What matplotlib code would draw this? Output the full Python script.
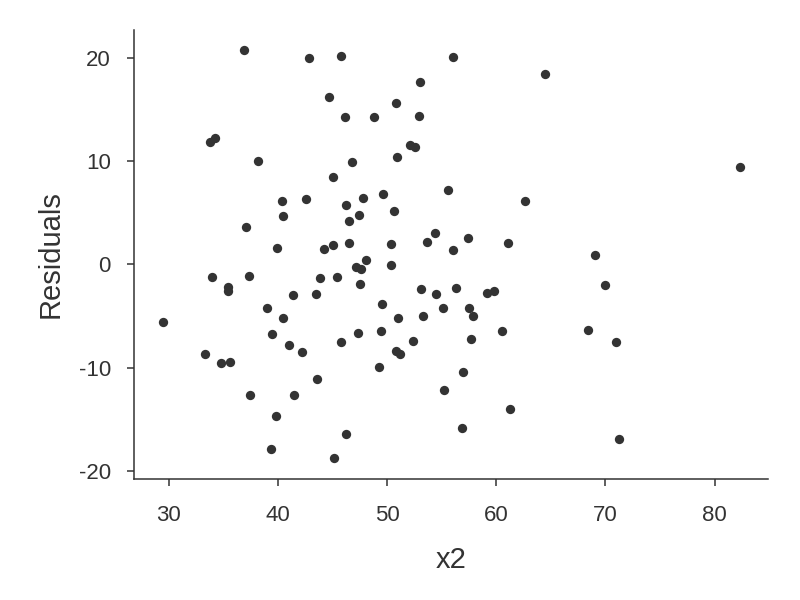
import matplotlib.pyplot as plt

x2 = [36.87, 42.87, 45.80, 44.67, 46.17, 34.25, 33.82, 38.13, 46.75, 45.07,
      40.36, 42.56, 46.24, 40.51, 46.49, 37.12, 39.90, 44.21, 45.00, 46.47,
      56.00, 64.44, 53.01, 50.84, 48.79, 52.95, 52.09, 52.58, 50.93, 55.61,
      62.63, 47.82, 49.65, 47.45, 50.66, 50.38, 53.68, 54.35, 57.38, 56.07,
      61.11, 82.37, 69.08, 33.98, 35.41, 35.41, 37.37, 43.88, 45.37, 41.34,
      43.45, 39.02, 40.49, 29.49, 39.48, 41.00, 42.16, 45.78, 33.30, 34.83,
      35.59, 43.57, 37.46, 41.49, 39.78, 46.22, 39.35, 45.16, 48.03, 47.18,
      47.64, 50.35, 47.54, 53.10, 54.51, 56.34, 59.15, 59.76, 49.52, 51.03,
      53.32, 55.15, 57.53, 57.86, 47.36, 49.43, 52.34, 50.78, 51.21, 57.68,
      60.50, 49.25, 56.98, 55.18, 61.29, 56.86, 69.96, 68.44, 71.01, 71.28]

residuals = [20.78, 20.06, 20.25, 16.27, 14.30, 12.29, 11.84, 10.03, 9.96, 8.48,
             6.15, 6.34, 5.78, 4.72, 4.20, 3.65, 1.55, 1.51, 1.90, 2.04,
             20.10, 18.45, 17.70, 15.63, 14.33, 14.43, 11.58, 11.36, 10.39, 7.21,
             6.17, 6.47, 6.80, 4.76, 5.15, 1.94, 2.14, 3.04, 2.52, 1.39,
             2.04, 9.48, 0.93, -1.23, -2.17, -2.59, -1.11, -1.36, -1.26, -3.01,
             -2.91, -4.27, -5.18, -5.60, -6.77, -7.83, -8.54, -7.57, -8.68, -9.55,
             -9.42, -11.14, -12.62, -12.66, -14.70, -16.43, -17.86, -18.83, 0.42, -0.23,
             -0.49, -0.07, -1.94, -2.37, -2.85, -2.30, -2.79, -2.62, -3.88, -5.21,
             -4.99, -4.21, -4.21, -5.02, -6.67, -6.45, -7.45, -8.42, -8.68, -7.28,
             -6.41, -9.94, -10.43, -12.23, -13.98, -15.86, -2.04, -6.35, -7.57, -16.89]

plt.rcParams['font.family'] = ['Liberation Sans', 'DejaVu Sans']
plt.rcParams['axes.unicode_minus'] = False

fig = plt.figure(figsize=(8, 6), dpi=100)
ax = fig.add_axes([0.168, 0.202, 0.792, 0.748])

ax.scatter(x2, residuals, s=45, color='#333333', linewidths=0)

ax.set_xlim(26.85, 84.9)
ax.set_ylim(-20.8, 22.75)
ax.set_xticks([30, 40, 50, 60, 70, 80])
ax.set_yticks([-20, -10, 0, 10, 20])

for side in ['top', 'right']:
    ax.spines[side].set_visible(False)
for side in ['left', 'bottom']:
    ax.spines[side].set_color('#333333')
    ax.spines[side].set_linewidth(1.1)

ax.tick_params(axis='both', direction='out', length=5, width=1.1,
               color='#333333', labelcolor='#333333', labelsize=16)
ax.tick_params(axis='x', pad=14)
ax.tick_params(axis='y', pad=12)

ax.set_xlabel('x2', fontsize=21, color='#333333', labelpad=14)
ax.set_ylabel('Residuals', fontsize=21, color='#333333', labelpad=10)

fig.savefig('out.png', dpi=100)
